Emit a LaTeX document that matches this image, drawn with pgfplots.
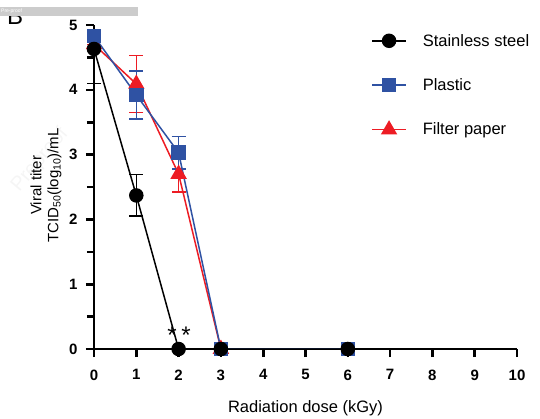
\documentclass[border=0pt]{standalone}
\usepackage{fontspec}
\setmainfont{Liberation Sans}
\usepackage{pgfplots}
\pgfplotsset{compat=1.18}
\definecolor{plblue}{RGB}{47,82,163}
\definecolor{plred}{RGB}{237,28,36}
\pgfplotsset{
  ebar/.style={
    error bars/y dir=both, error bars/y explicit,
    error bars/error bar style={line width=1.5pt},
    error bars/error mark options={rotate=90, mark size=7pt, line width=1.5pt},
  },
}
\begin{document}
\begin{tikzpicture}
% watermark and panel letter
\node[rotate=50, text=gray!8, font=\fontsize{20}{20}\selectfont] at (40pt,258pt) {Preproof};
\node[anchor=base west, font=\fontsize{24}{24}\selectfont, inner sep=0pt] at (7pt,393pt) {B};
\fill[gray!40] (0pt,402pt) rectangle (138pt,411pt);
\node[anchor=west, text=white, font=\fontsize{5}{5}\selectfont, inner sep=1pt] at (0pt,406.5pt) {Pre-proof};
\begin{axis}[
    at={(94pt,69pt)}, anchor=south west,
    scale only axis, width=423pt, height=324pt,
    xmin=0, xmax=10, ymin=0, ymax=5,
    axis lines*=left,
    axis line style={line width=2.6pt},
    xtick={0,...,10}, ytick={0,...,5},
    minor ytick={0.5,1.5,2.5,3.5,4.5},
    tick align=outside,
    major tick length=8pt, minor tick length=7pt,
    every tick/.style={black, line width=2.6pt},
    xticklabel={\fontsize{15}{15}\selectfont\bfseries\pgfmathprintnumber{\tick}},
    yticklabel={\fontsize{15}{15}\selectfont\bfseries\pgfmathprintnumber{\tick}},
    xticklabel style={yshift=-9pt},
    yticklabel style={xshift=-5pt},
    /pgf/number format/assume math mode=true,
    xlabel={\fontsize{16.5}{18}\selectfont Radiation dose (kGy)},
    xlabel style={at={(axis description cs:0.5,0)}, anchor=center, yshift=-59pt},
    ylabel={\fontsize{15}{18}\selectfont\begin{tabular}{@{}c@{}}Viral titer\\[-1pt]TCID\textsubscript{50}(log\textsubscript{10})/mL\end{tabular}},
    ylabel style={at={(axis description cs:-0.113,0.505)}, anchor=center},
    clip=false,
    reverse legend,
    legend cell align=left,
    legend style={at={(rel axis cs:0.648,0.985)}, anchor=north west, draw=none, fill=none,
        font=\fontsize{16.5}{18}\selectfont, row sep=27pt,
        /tikz/every odd column/.append style={column sep=14pt}},
    legend image code/.code={\draw[mark repeat=2,mark phase=2,#1] plot coordinates {(0pt,0pt)(17pt,0pt)(34pt,0pt)};},
]
\addplot[plred, line width=1.5pt, mark=triangle*, mark size=8pt, ebar]
  coordinates {(0,4.70) += (0,0) -= (0,0.60)
               (1,4.09) +- (0,0.44)
               (2,2.70) +- (0,0.28)
               (3,0) +- (0,0)};
\addlegendentry{Filter paper}
\addplot[plblue, line width=1.5pt, mark=square*, mark size=6.5pt, ebar]
  coordinates {(0,4.83) += (0,0) -= (0,0)
               (1,3.92) +- (0,0.37)
               (2,3.03) +- (0,0.25)
               (3,0) +- (0,0)
               (6,0) +- (0,0)};
\addlegendentry{Plastic}
\addplot[black, line width=1.5pt, mark=*, mark size=6.5pt, ebar]
  coordinates {(0,4.63) += (0,0) -= (0,0.53)
               (1,2.37) +- (0,0.32)
               (2,0) +- (0,0)
               (3,0) +- (0,0)
               (6,0) +- (0,0)};
\addlegendentry{Stainless steel}
\node[anchor=base, font=\fontsize{24}{24}\selectfont, inner sep=0pt] at (axis cs:2.01,0.09) {*\hspace{4.5pt}*};
\end{axis}
\pgfresetboundingbox
\useasboundingbox (0pt,0pt) rectangle (540pt,418pt);
\end{tikzpicture}
\end{document}
